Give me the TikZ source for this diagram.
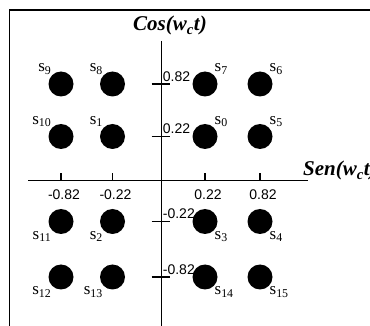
\documentclass[tikz,border=0pt]{standalone}
\usepackage{fontspec}
\setmainfont{Liberation Serif}
\newfontfamily\numfont{Liberation Sans}
\usetikzlibrary{positioning}

\begin{document}
\begin{tikzpicture}[
    x=1pt, y=-1pt,
    axis/.style={line width=1.2pt, draw=black},
    tick/.style={line width=1.2pt, draw=black},
    symb/.style={circle, fill=black, minimum size=25pt, inner sep=0pt},
    lbl/.style={font=\fontsize{17}{19}\selectfont, inner sep=0.5pt},
    num/.style={font=\numfont\fontsize{14}{16}\selectfont, inner sep=1pt},
    title/.style={font=\fontsize{21}{23}\selectfont\bfseries\itshape, inner sep=0pt}
]
\useasboundingbox (0,0) rectangle (370,326);
\clip (0,0) rectangle (370,326);
\draw[line width=1.5pt] (9.5,340) -- (9.5,10) -- (380,10);
% axes
\coordinate (o) at (161.7,180.7);
\coordinate (ytop) at (161.7,41);
\coordinate (ybot) at (161.7,330);
\coordinate (xleft) at (28,180.7);
\coordinate (xright) at (308,180.7);
\draw[axis] (ytop) -- (ybot);
\draw[axis] (xleft) -- (xright);
\node[title, anchor=base] (cos) at (170,31) {Cos(w\textsubscript{c}t)};
\node[title, anchor=base west] (sen) at (303,176) {Sen(w\textsubscript{c}t)};
% symbols
\node[symb, label={[lbl]above left:s\textsubscript{9}}] (s9) at (61,84) {};
\node[symb, label={[lbl]above left:s\textsubscript{8}}] (s8) at (112.5,84) {};
\node[symb, label={[lbl]above right:s\textsubscript{7}}] (s7) at (205,84) {};
\node[symb, label={[lbl]above right:s\textsubscript{6}}] (s6) at (260,84) {};
\node[symb, label={[lbl]above left:s\textsubscript{10}}] (s10) at (61,136.5) {};
\node[symb, label={[lbl]above left:s\textsubscript{1}}] (s1) at (112.5,136.5) {};
\node[symb, label={[lbl]above right:s\textsubscript{0}}] (s0) at (205,136.5) {};
\node[symb, label={[lbl]above right:s\textsubscript{5}}] (s5) at (260,136.5) {};
\node[symb, label={[lbl]below left:s\textsubscript{11}}] (s11) at (61,221.5) {};
\node[symb, label={[lbl]below left:s\textsubscript{2}}] (s2) at (112.5,221.5) {};
\node[symb, label={[lbl]below right:s\textsubscript{3}}] (s3) at (205,221.5) {};
\node[symb, label={[lbl]below right:s\textsubscript{4}}] (s4) at (260,221.5) {};
\node[symb, label={[lbl]below left:s\textsubscript{12}}] (s12) at (61,277) {};
\node[symb, label={[lbl]below left:s\textsubscript{13}}] (s13) at (112.5,277) {};
\node[symb, label={[lbl]below right:s\textsubscript{14}}] (s14) at (205,277) {};
\node[symb, label={[lbl]below right:s\textsubscript{15}}] (s15) at (260,277) {};
% ticks on the Sen axis
\draw[tick] (s9 |- o) -- ++(0,-8);
\draw[tick] (s8 |- o) -- ++(0,-8);
\draw[tick] (s7 |- o) -- ++(0,-8);
\draw[tick] (s6 |- o) -- ++(0,-8);
\node[num, below=8pt, xshift=3pt] (xm82) at (s9 |- o) {-0.82};
\node[num, below=8pt, xshift=3pt] (xm22) at (s8 |- o) {-0.22};
\node[num, below=8pt, xshift=3pt] (xp22) at (s7 |- o) {0.22};
\node[num, below=8pt, xshift=3pt] (xp82) at (s6 |- o) {0.82};
% ticks on the Cos axis
\draw[tick] (o |- s9) ++(-10,0) -- ++(18,0);
\draw[tick] (o |- s10) ++(-10,0) -- ++(18,0);
\draw[tick] (o |- s11) ++(-10,0) -- ++(18,0);
\draw[tick] (o |- s12) ++(-10,0) -- ++(18,0);
\node[num, anchor=south west, yshift=1.5pt] (yp82) at (o |- s9) {0.82};
\node[num, anchor=south west, yshift=1.5pt] (yp22) at (o |- s10) {0.22};
\node[num, anchor=south west, yshift=1.5pt] (ym22) at (o |- s11) {-0.22};
\node[num, anchor=south west, yshift=1.5pt] (ym82) at (o |- s12) {-0.82};
\end{tikzpicture}
\end{document}
